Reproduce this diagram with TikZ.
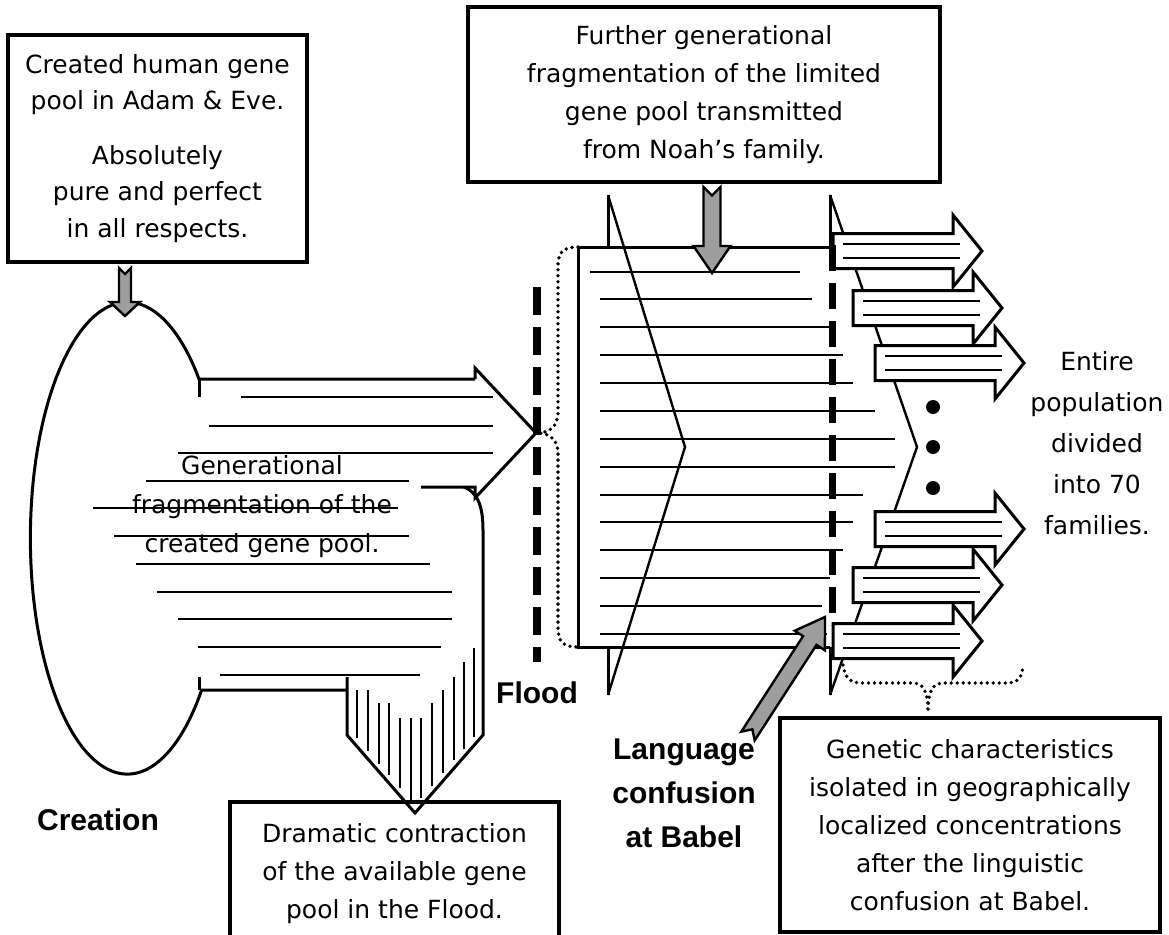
\documentclass[tikz,border=0pt]{standalone}
\usepackage{fontspec}
\setmainfont{DejaVu Sans}
\newfontfamily\labelfont{Liberation Sans}
\usetikzlibrary{calc}

% grey block arrow with a notched tail: tail, tip, shaft half, head half, head length
\newcommand{\blockarrow}[5]{%
  \coordinate (headbase) at ($(#2)!#5pt!(#1)$);
  \draw[grayarrow] ($(#1)!#3pt!90:(#2)$) -- ($(headbase)!#3pt!90:(#2)$)
    -- ($(headbase)!#4pt!90:(#2)$) -- (#2)
    -- ($(headbase)!#4pt!-90:(#2)$) -- ($(headbase)!#3pt!-90:(#2)$)
    -- ($(#1)!#3pt!-90:(#2)$) -- ($(#1)!#3pt!(#2)$) -- cycle;
}

\begin{document}
\begin{tikzpicture}[
    x=1pt,
    y=-1pt,
    outline/.style={line width=3pt},
    hatch/.style={line width=2.4pt},
    textbox/.style={
      draw,
      line width=3.2pt,
      align=center,
      inner sep=0pt,
      font=\fontsize{25}{38}\selectfont
    },
    bigword/.style={
      align=center,
      font=\labelfont\bfseries\fontsize{30}{44}\selectfont
    },
    grayarrow/.style={draw, line width=2.4pt, fill=black!38},
    dotbrace/.style={line width=3.8pt, dash pattern=on 0pt off 6pt, line cap=round},
    cutline/.style={line width=8pt, dash pattern=on 28pt off 12pt},
    famarrow/.pic={
      \draw[outline, fill=white] (0,-17.5) -- (120,-17.5) -- (120,-36) -- (149,0)
        -- (120,36) -- (120,17.5) -- (0,17.5) -- cycle;
      \draw[hatch] (10,-7) -- (127,-7) (10,7) -- (127,7);
    }
  ]
    \useasboundingbox (0,0) rectangle (1169,934);

    % creation: fragmented gene pool
    \foreach \ya/\xa/\xb in {397/241/493, 426/209/493, 453/178/493, 481/146/409,
        508/93/398, 536/114/409, 564/136/430, 592/157/452, 619/178/452,
        647/198/441, 675/220/420}
      \draw[hatch] (\xa,\ya) -- (\xb,\ya);
    \node[font=\fontsize{25}{39}\selectfont, align=center] (fragment) at (262,507)
      {Generational\\fragmentation of the\\created gene pool.};

    \draw[outline] (475,379) -- (199,379)
      arc[start angle=-42.4, end angle=-319.9, x radius=97, y radius=236] -- (347,690);
    \draw[outline] (199,379) -- (199,397);
    \draw[outline] (199,677) -- (199,690);
    \draw[outline] (475,379) -- (475,368) -- (536,433) -- (475,498) -- (475,487) -- (421,487);
    \draw[outline] (347,677) -- (347,735) -- (415,813) -- (483,735) -- (483,530)
      .. controls (483,503) and (476,492) .. (464,487);

    % flood contraction
    \foreach \xa/\ya in {357/690, 368/690, 379/703, 389/703, 400/718, 411/718,
        421/718, 432/703, 443/690, 454/677, 464/662, 474/648} {
      \pgfmathsetmacro\yb{735+1.147*min(\xa-347,483-\xa)-8}
      \draw[hatch] (\xa,\ya) -- (\xa,\yb);
    }

    % post-flood gene pool
    \foreach \ya/\xa/\xb in {272/590/800, 299/600/812, 327/600/830, 355/600/843,
        383/600/853, 411/600/875, 439/600/895, 467/600/895, 495/600/863,
        522/600/853, 550/600/843, 578/600/830, 606/600/822, 634/600/827}
      \draw[hatch] (\xa,\ya) -- (\xb,\ya);
    \draw[outline] (608,195) -- (608,247) -- (578,247) -- (578,647) -- (608,647) -- (608,695);
    \draw[outline] (608,247) -- (830,247) (608,647) -- (830,647)
      (830,195) -- (830,247) (830,647) -- (830,695);
    \draw[hatch] (608,195) -- (685,447) -- (608,695);
    \draw[hatch] (830,195) -- (917,447) -- (830,695);

    % the families
    \pic (fam1) at (833,251) {famarrow};
    \pic (fam2) at (853,308) {famarrow};
    \pic (fam3) at (875,363) {famarrow};
    \pic (fam4) at (875,529) {famarrow};
    \pic (fam5) at (853,585) {famarrow};
    \pic (fam6) at (833,641) {famarrow};
    \node[circle, fill, inner sep=0pt, minimum size=14pt] (dot1) at (933,407) {};
    \node[circle, fill, inner sep=0pt, minimum size=14pt] (dot2) at (933,447) {};
    \node[circle, fill, inner sep=0pt, minimum size=14pt] (dot3) at (933,488) {};
    \node[font=\fontsize{25}{41}\selectfont, align=center] (families) at (1097,443)
      {Entire\\population\\divided\\into 70\\families.};

    % braces
    \draw[dotbrace] (578,247) .. controls (563,247) and (558,252) .. (558,267) -- (558,412)
      .. controls (558,427) and (549,433) .. (537,433)
      .. controls (549,433) and (558,439) .. (558,454) -- (558,627)
      .. controls (558,642) and (563,647) .. (578,647);
    \draw[dotbrace] (843,665) .. controls (845,678) and (850,683) .. (862,683) -- (912,683)
      .. controls (923,683) and (928,690) .. (928,712)
      .. controls (928,690) and (933,683) .. (944,683) -- (1006,683)
      .. controls (1018,683) and (1022,678) .. (1023,665);

    % flood and babel
    \coordinate (floodtop) at (537,287);
    \coordinate (floodbot) at (537,662);
    \coordinate (babeltop) at (832,245);
    \coordinate (babelbot) at (832,625);
    \draw[cutline] (floodtop) -- (floodbot);
    \draw[cutline, line width=7pt, dash pattern=on 26pt off 12pt] (babeltop) -- (babelbot);

    % labels and boxes
    \node[textbox, minimum width=299pt, minimum height=227pt,
      font=\fontsize{25}{36.5}\selectfont] (adam) at (157.5,148.5)
      {Created human gene\\pool in Adam \& Eve.\\[18pt]Absolutely\\pure and perfect\\in all respects.};
    \node[textbox, minimum width=472pt, minimum height=175pt] (noah) at (704,94.5)
      {Further generational\\fragmentation of the limited\\gene pool transmitted\\from Noah’s family.};
    \node[textbox, minimum width=329pt, minimum height=143pt] (contract) at (394.5,873.5)
      {Dramatic contraction\\of the available gene\\pool in the Flood.};
    \node[textbox, minimum width=380pt, minimum height=214pt] (isolate) at (970,825)
      {Genetic characteristics\\isolated in geographically\\localized concentrations\\after the linguistic\\confusion at Babel.};
    \node[bigword] (flood) at (537,693) {Flood};
    \node[bigword] (creation) at (98,820) {Creation};
    \node[bigword] (babel) at (684,793) {Language\\confusion\\at Babel};

    % grey arrows
    \coordinate (adamtail) at (125,268);
    \coordinate (adamtip) at (125,316);
    \blockarrow{adamtail}{adamtip}{6}{15}{14}
    \coordinate (noahtail) at (712,187);
    \coordinate (noahtip) at (712,273);
    \blockarrow{noahtail}{noahtip}{8.5}{18.5}{27}
    \coordinate (babeltail) at (748,736);
    \coordinate (babeltip) at (825,617);
    \blockarrow{babeltail}{babeltip}{8}{18}{28}
  \end{tikzpicture}
\end{document}
